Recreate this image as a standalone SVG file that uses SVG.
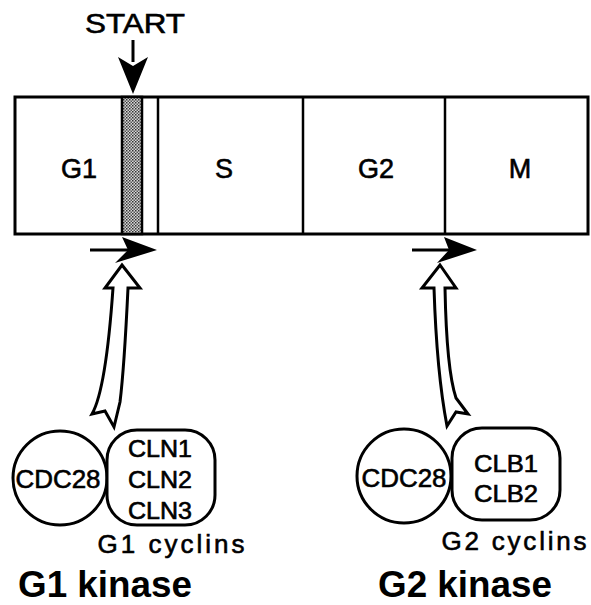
<svg xmlns="http://www.w3.org/2000/svg" width="591" height="605" viewBox="0 0 591 605">
<style>
.box{fill:#fff;stroke:#000;stroke-width:3}
.div{stroke:#000;stroke-width:2.5;fill:none}
.lbl{font-family:"Liberation Sans",Arial,sans-serif;fill:#000;text-anchor:middle}
.reg{stroke:#000;stroke-width:0.6}
.phase{font-size:27px}
.sm{font-size:23px}
.big{font-size:36px;font-weight:bold}
.hollow{fill:#fff;stroke:#000;stroke-width:3;stroke-linejoin:miter}
.shape{fill:#fff;stroke:#000;stroke-width:3}
</style>
<defs>
<pattern id="stip" width="3" height="3" patternUnits="userSpaceOnUse">
<rect width="3" height="3" fill="#d8d8d8"/>
<rect x="0" y="0" width="1.5" height="1.5" fill="#333"/>
<rect x="1.5" y="1.5" width="1.5" height="1.5" fill="#555"/>
</pattern>
</defs>
<rect width="591" height="605" fill="#fff"/>

<g id="cycle">
<rect class="box" x="15" y="97" width="573" height="137"/>
<g id="cell-g1"><text class="lbl reg phase" x="79" y="178">G1</text></g>
<g id="start-band">
<rect x="122" y="97" width="20" height="137" fill="url(#stip)" stroke="#000" stroke-width="2.5"/>
<line class="div" x1="158" y1="97" x2="158" y2="234"/>
</g>
<g id="cell-s"><text class="lbl reg phase" x="224" y="178">S</text></g>
<g id="cell-g2"><line class="div" x1="303" y1="97" x2="303" y2="234"/><text class="lbl reg phase" x="376" y="178">G2</text></g>
<g id="cell-m"><line class="div" x1="445" y1="97" x2="445" y2="234"/><text class="lbl reg phase" x="520" y="178">M</text></g>
</g>

<g id="start-label"><text class="lbl reg" style="font-size:28px" x="135" y="33" textLength="100" lengthAdjust="spacingAndGlyphs">START</text></g>

<g id="g1-kinase">
<circle class="shape" cx="60" cy="478" r="47"/>
<rect class="shape" x="107" y="430" width="108" height="95" rx="30" ry="30"/>
<text class="lbl reg" style="font-size:25px" x="58" y="488" textLength="85" lengthAdjust="spacingAndGlyphs">CDC28</text>
<text class="lbl reg sm" x="160" y="457" textLength="64" lengthAdjust="spacingAndGlyphs">CLN1</text>
<text class="lbl reg sm" x="160" y="488" textLength="64" lengthAdjust="spacingAndGlyphs">CLN2</text>
<text class="lbl reg sm" x="160" y="519" textLength="64" lengthAdjust="spacingAndGlyphs">CLN3</text>
<text class="lbl reg" style="font-size:26px" x="171" y="553" textLength="147" lengthAdjust="spacing">G1 cyclins</text>
<text class="lbl big" x="105" y="597" textLength="174" lengthAdjust="spacingAndGlyphs">G1 kinase</text>
</g>

<g id="g2-kinase">
<circle class="shape" cx="404" cy="476" r="47"/>
<rect class="shape" x="452" y="428" width="108" height="92" rx="30" ry="30"/>
<text class="lbl reg" style="font-size:25px" x="404" y="487" textLength="85" lengthAdjust="spacingAndGlyphs">CDC28</text>
<text class="lbl reg sm" x="506" y="472" textLength="64" lengthAdjust="spacingAndGlyphs">CLB1</text>
<text class="lbl reg sm" x="506" y="502" textLength="64" lengthAdjust="spacingAndGlyphs">CLB2</text>
<text class="lbl reg" style="font-size:26px" x="514" y="550" textLength="145" lengthAdjust="spacing">G2 cyclins</text>
<text class="lbl big" x="465" y="597" textLength="174" lengthAdjust="spacingAndGlyphs">G2 kinase</text>
</g>

<g id="connectors">
<line x1="133" y1="40" x2="133" y2="62" stroke="#000" stroke-width="3"/>
<polygon points="118,57 133,66 148,57 133,94" fill="#000"/>
<line x1="90" y1="250" x2="135" y2="250" stroke="#000" stroke-width="3"/>
<polygon points="122,237 157,250 115,263 128,250" fill="#000"/>
<line x1="412" y1="250" x2="455" y2="250" stroke="#000" stroke-width="3"/>
<polygon points="444,237 477,250 437,263 449,250" fill="#000"/>
<path class="hollow" d="M122,265 L140,288 L128,288 C126,330 124,370 120,402 L114,427 L105,411 L92,414 C100,400 108,360 113,288 L105,288 Z"/>
<path class="hollow" d="M440,265 L456,288 L445,288 C446,340 450,380 456,398 L468,414 L456,412 L447,426 C442,400 436,350 434,288 L422,288 Z"/>
</g>
</svg>
